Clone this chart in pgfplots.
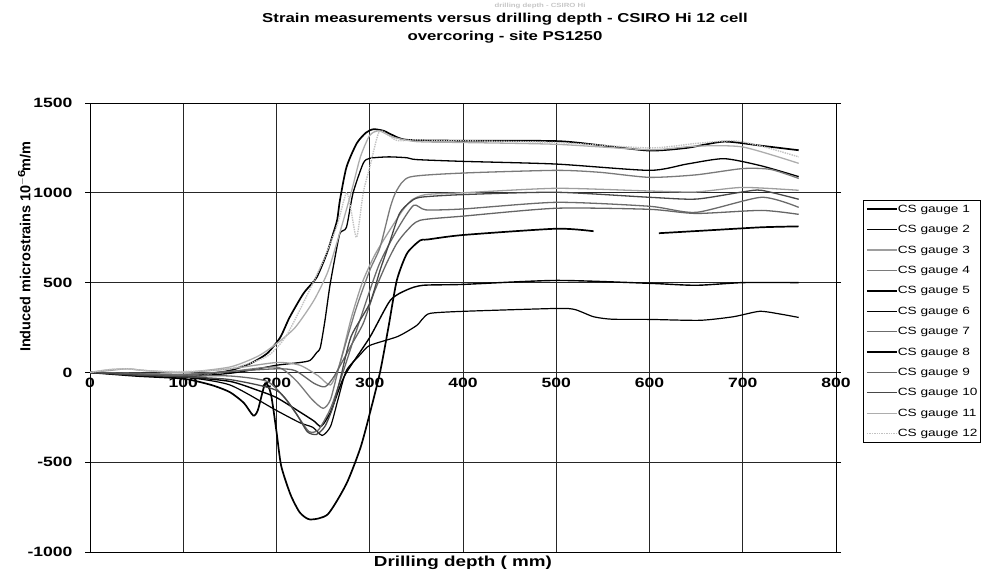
\documentclass[border=0pt]{standalone}
\usepackage{fontspec}
\setmainfont{Liberation Sans}[FakeStretch=1.3]
\newfontfamily\rotfont{Liberation Sans}
\usepackage{pgfplots}
\pgfplotsset{compat=1.18}
\definecolor{g3}{gray}{0.62}
\definecolor{g4}{gray}{0.48}
\definecolor{g7}{gray}{0.42}
\definecolor{g9}{gray}{0.40}
\definecolor{g10}{gray}{0.28}
\definecolor{g11}{gray}{0.68}
\definecolor{g12}{gray}{0.76}
\begin{document}
\begin{tikzpicture}
\useasboundingbox (0,0) rectangle (982pt,573pt);
\node[text=gray!45, font=\bfseries\fontsize{6}{7}\selectfont] at (540pt,567pt) {drilling depth - CSIRO Hi};
\node[font=\bfseries\fontsize{12.9}{15}\selectfont, align=center] at (505pt,545pt) {Strain measurements versus drilling depth - CSIRO Hi 12 cell\\[3pt] overcoring - site PS1250};
\begin{axis}[
  at={(90pt,21pt)}, anchor=south west,
  scale only axis, width=746pt, height=449pt,
  xmin=0, xmax=800, ymin=-1000, ymax=1500,
  xtick={0,100,...,800}, ytick={-1000,-500,0,500,1000,1500},
  grid=major, grid style={black!85, line width=0.6pt},
  axis line style={black, line width=0.8pt},
  tick align=outside, major tick length=5pt,
  xtick style={draw=none},
  ytick style={black, line width=0.6pt},
  /pgf/number format/assume math mode=true,
  /pgf/number format/1000 sep={},
  ticklabel style={font=\bfseries\fontsize{13.5}{14}\selectfont},
  yticklabel style={xshift=-9pt},
  xticklabel style={yshift=180pt, inner sep=1pt},
  xlabel={Drilling depth ( mm)},
  xlabel style={font=\bfseries\fontsize{14.5}{15}\selectfont, at={(axis description cs:0.5,-0.024)}, anchor=center},
  ylabel={Induced microstrains 10$^{\mathbf{-6}}$m/m},
  ylabel style={font=\rotfont\bfseries\fontsize{14.5}{15}\selectfont, at={(axis description cs:-0.088,0.68)}, anchor=center},
  legend style={at={(1.036,0.784)}, anchor=north west, draw=black, line width=0.5pt,
    font=\fontsize{10.5}{12}\selectfont, row sep=10.4pt, inner xsep=3pt, inner ysep=4pt,
    nodes={inner sep=0pt, text height=8pt, text depth=2pt}},
  legend cell align=left,
  legend image code/.code={\draw[#1] (0pt,0pt) -- (30pt,0pt);},
  every axis plot/.append style={smooth, tension=0.4, no marks},
]
\addplot[black, line width=1.7pt] coordinates {(0,0)(30,-5)(60,-15)(100,-15)(130,-5)(150,10)(172,50)(190,106)(204,195)(214,306)(229,440)(243,529)(254,663)(260,760)(265,847)(268,958)(275,1142)(286,1275)(296,1335)(304,1354)(315,1345)(325,1320)(340,1295)(400,1290)(500,1288)(547,1265)(600,1235)(640,1250)(680,1285)(720,1262)(760,1237)};
\addlegendentry{CS gauge 1}
\addplot[black, line width=1.3pt] coordinates {(0,0)(30,-5)(60,-20)(100,-25)(150,-5)(180,20)(200,40)(225,55)(236,67)(243,110)(247,139)(252,290)(257,474)(262,620)(268,774)(275,808)(282,997)(293,1164)(300,1192)(320,1200)(340,1195)(350,1185)(400,1175)(500,1160)(600,1125)(640,1160)(680,1190)(720,1150)(760,1090)};
\addlegendentry{CS gauge 2}
\addplot[g3, line width=1.3pt] coordinates {(0,0)(20,10)(40,20)(60,10)(100,0)(150,20)(200,55)(225,40)(245,-20)(258,-70)(268,50)(280,300)(292,500)(305,650)(320,780)(335,900)(345,960)(360,990)(400,1000)(500,1025)(600,1010)(650,1005)(700,1030)(760,1014)};
\addlegendentry{CS gauge 3}
\addplot[g4, line width=1.3pt] coordinates {(0,0)(50,-5)(100,-10)(150,5)(200,30)(220,-40)(238,-150)(250,-200)(258,-150)(268,50)(285,350)(300,568)(311,696)(322,919)(329,1014)(343,1088)(400,1110)(500,1125)(547,1114)(600,1086)(650,1100)(700,1135)(730,1130)(760,1080)};
\addlegendentry{CS gauge 4}
\addplot[black, line width=1.4pt] coordinates {(0,0)(50,-15)(100,-25)(150,-50)(180,-100)(200,-140)(225,-220)(240,-270)(248,-300)(258,-220)(268,-80)(275,0)(300,195)(322,401)(340,460)(357,485)(400,490)(500,512)(600,496)(650,485)(700,500)(760,500)};
\addlegendentry{CS gauge 5}
\addplot[black, line width=1.2pt] coordinates {(0,0)(50,-10)(100,-25)(150,-70)(200,-212)(225,-280)(239,-306)(249,-351)(258,-300)(266,-150)(275,11)(290,100)(300,150)(330,200)(350,260)(357,300)(365,329)(400,340)(500,356)(520,350)(540,310)(560,296)(600,295)(654,290)(690,310)(718,340)(740,325)(760,306)};
\addlegendentry{CS gauge 6}
\addplot[g7, line width=1.3pt] coordinates {(0,0)(50,-10)(100,-20)(150,-20)(190,-50)(210,-150)(225,-260)(235,-330)(245,-320)(258,-200)(270,-20)(290,300)(310,600)(330,800)(347,930)(360,905)(400,910)(500,947)(600,925)(650,891)(720,975)(760,919)};
\addlegendentry{CS gauge 7}
\addplot[black, line width=1.7pt] coordinates {(0,0)(50,-20)(100,-35)(130,-70)(150,-110)(165,-170)(175,-240)(180,-210)(188,-60)(194,-120)(200,-330)(205,-520)(215,-680)(225,-780)(236,-819)(255,-790)(275,-620)(290,-420)(300,-230)(311,0)(320,250)(329,512)(340,663)(354,735)(362,740)(400,765)(500,800)(540,786)};
\addlegendentry{CS gauge 8}
\addplot[g9, line width=1.3pt] coordinates {(0,0)(50,-10)(100,-15)(150,5)(200,20)(220,10)(240,-60)(252,-80)(262,-20)(280,150)(293,273)(305,450)(318,607)(329,718)(340,790)(354,847)(400,870)(500,914)(600,908)(650,885)(720,902)(760,880)};
\addlegendentry{CS gauge 9}
\addplot[g10, line width=1.3pt] coordinates {(0,0)(50,-15)(100,-25)(150,-40)(200,-100)(220,-220)(233,-330)(243,-345)(252,-300)(260,-200)(268,-45)(280,200)(300,384)(311,568)(322,735)(332,886)(343,947)(354,975)(400,990)(500,1003)(600,975)(650,965)(700,1005)(720,1014)(760,964)};
\addlegendentry{CS gauge 10}
\addplot[g11, line width=1.3pt] coordinates {(0,0)(20,15)(40,20)(60,10)(100,0)(150,30)(180,90)(200,160)(220,250)(240,400)(255,560)(268,780)(280,1000)(290,1200)(300,1320)(310,1345)(325,1310)(350,1285)(400,1280)(500,1270)(600,1240)(650,1260)(700,1255)(760,1164)};
\addlegendentry{CS gauge 11}
\addplot[g12, line width=1.4pt, densely dotted] coordinates {(0,0)(20,15)(40,20)(60,10)(100,5)(150,20)(190,90)(210,200)(230,400)(250,620)(265,820)(275,1000)(280,900)(286,752)(293,1000)(300,1142)(310,1340)(320,1320)(330,1290)(350,1295)(400,1290)(500,1280)(600,1250)(650,1275)(690,1290)(720,1260)(760,1200)};
\addlegendentry{CS gauge 12}
\addplot[black, line width=1.7pt, forget plot] coordinates {(610,775)(660,790)(720,808)(760,813)};
\end{axis}
\end{tikzpicture}
\end{document}
